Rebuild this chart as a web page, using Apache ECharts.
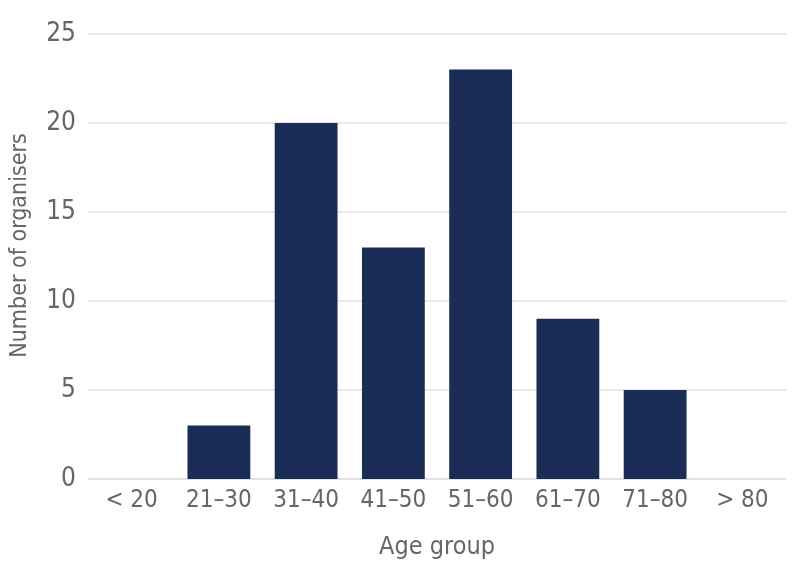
<!DOCTYPE html>
<html>
<head>
<meta charset="utf-8">
<script src="https://cdn.jsdelivr.net/npm/echarts@6/dist/echarts.min.js"></script>
<style>
  html, body { margin: 0; padding: 0; background: #fff; }
  #main { width: 798px; height: 565px; }
</style>
</head>
<body>
<div id="main"></div>
<script>
var myChart = echarts.init(document.getElementById('main'));

var ageGroups = ['< 20', '21\u201330', '31\u201340', '41\u201350', '51\u201360', '61\u201370', '71\u201380', '> 80'];
var organisers = [0, 3, 20, 13, 23, 9, 5, 0];
var yTicks = [0, 5, 10, 15, 20, 25];

var fontFam = '"DejaVu Sans Condensed", "Liberation Sans Narrow", sans-serif';

option = {
    animation: false,
    grid: {left: 88, right: 12, top: 34, bottom: 86, containLabel: false, outerBoundsMode: 'none'},
    xAxis: {
        type: 'category',
        data: ageGroups,
        name: 'Age group',
        nameLocation: 'middle',
        nameGap: 56,
        nameTextStyle: {color: '#666', fontSize: 25, fontFamily: fontFam},
        axisLine: {show: true, lineStyle: {color: '#e0e0e0', width: 1.5}},
        axisTick: {show: false},
        axisLabel: {color: '#666', fontSize: 24, fontFamily: fontFam, margin: 10}
    },
    yAxis: {
        type: 'value',
        min: yTicks[0],
        max: yTicks[yTicks.length - 1],
        interval: 5,
        name: 'Number of organisers',
        nameLocation: 'middle',
        nameGap: 56,
        nameTextStyle: {color: '#666', fontSize: 23, fontFamily: fontFam, padding: [0, 0, 0, 22]},
        axisLine: {show: false},
        axisTick: {show: false},
        axisLabel: {color: '#666', fontSize: 26, fontFamily: fontFam, margin: 12},
        splitLine: {lineStyle: {color: '#e0e0e0', width: 1.5}}
    },
    series: [{
        type: 'bar',
        data: organisers,
        barCategoryGap: '28%',
        itemStyle: {color: '#1b2d56'}
    }]
};
myChart.setOption(option);
</script>
</body>
</html>
